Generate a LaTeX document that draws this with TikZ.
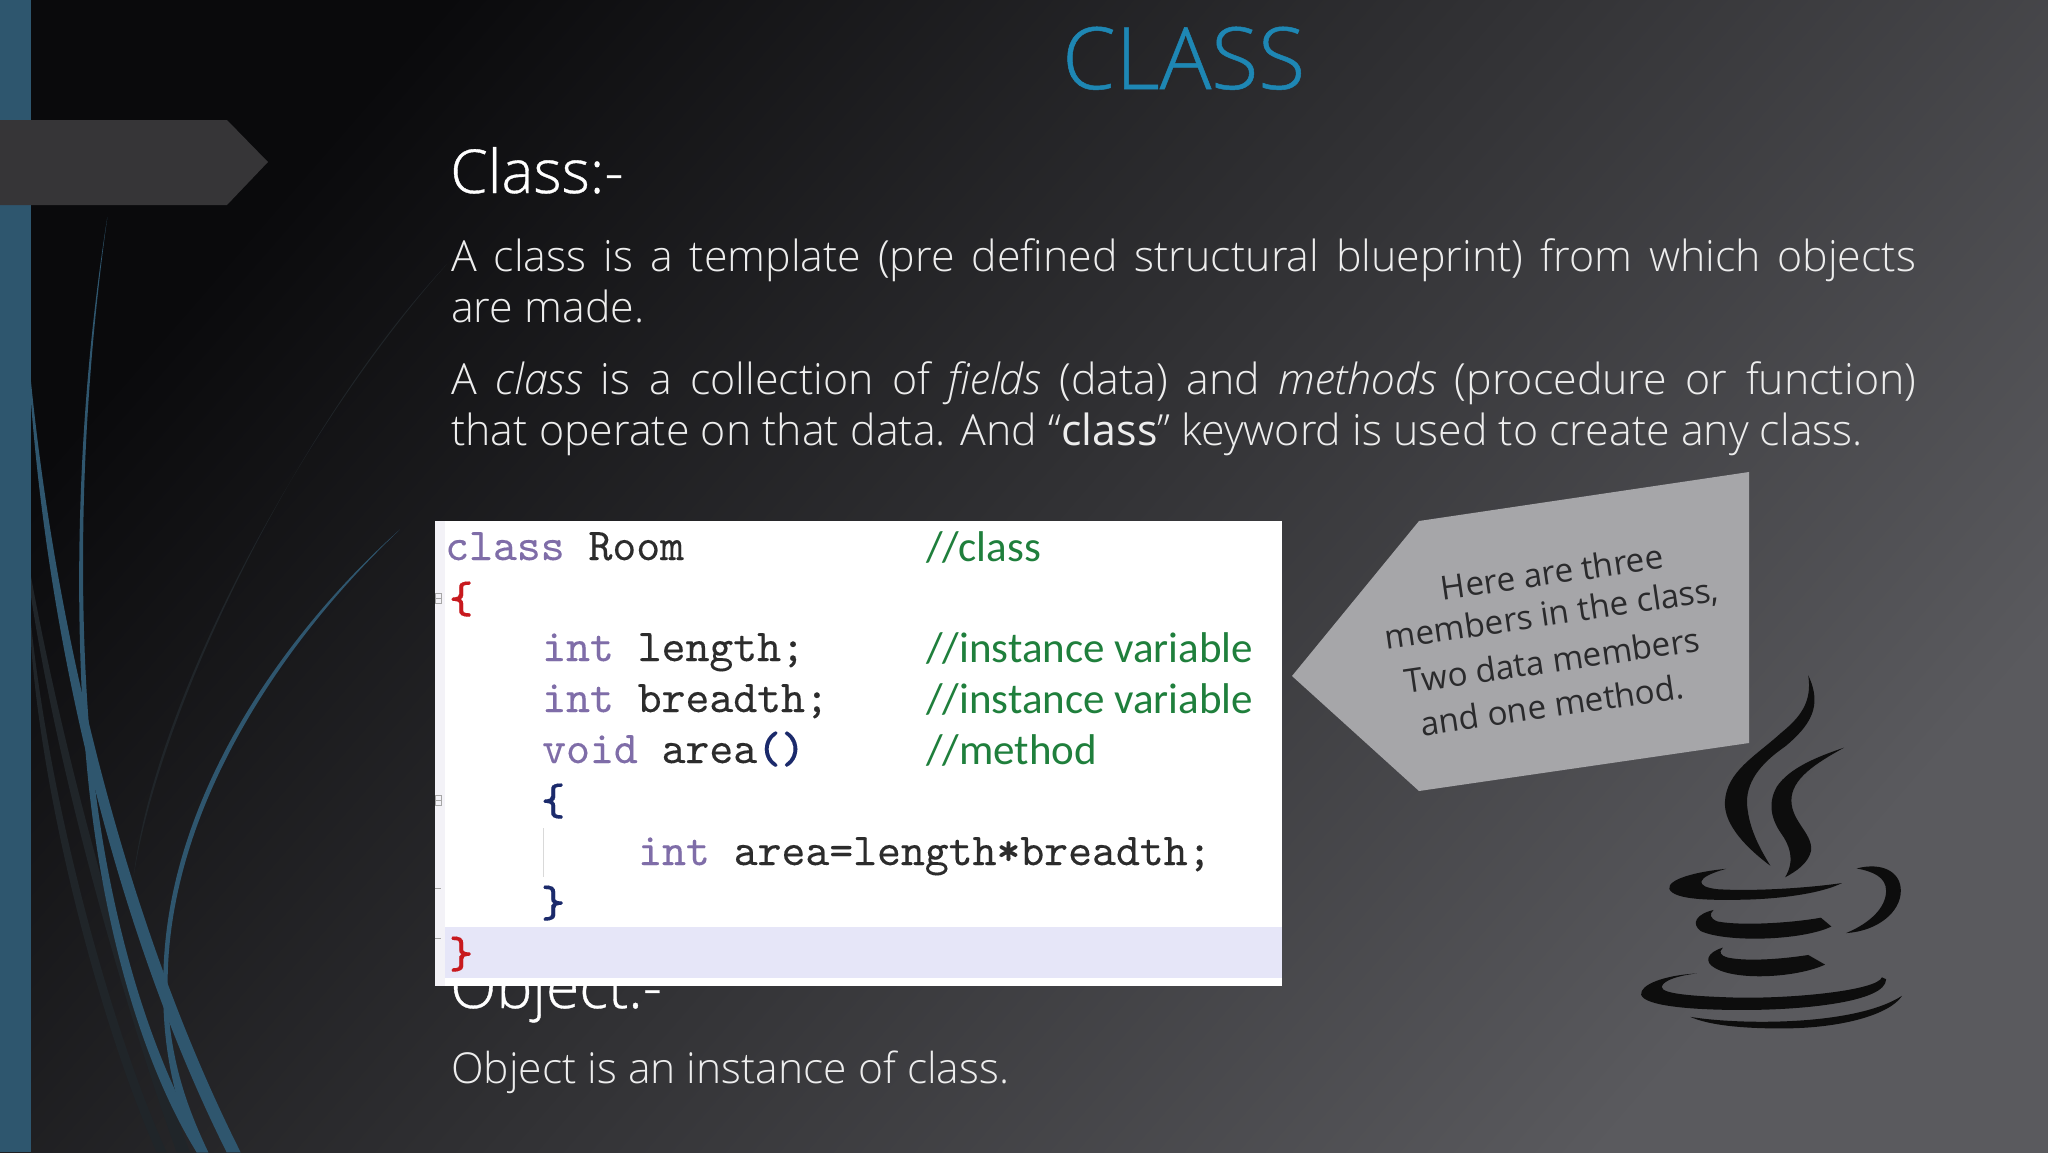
\documentclass[tikz,border=0pt]{standalone}
\usepackage{fontspec}
\setmainfont{Open Sans Light}[ItalicFont={Open Sans Light Italic},BoldFont={Open Sans}]
\newfontfamily\headfont{Open Sans Light}[FakeBold=0.6]
\newfontfamily\callfont{Open Sans}
\newfontfamily\commentfont{Carlito}
\newfontfamily\codefont{lmmono10-regular}[Extension=.otf,BoldFont=lmmonolt10-bold,BoldFeatures={Extension=.otf},FakeBold=0.2]
\definecolor{bgdark}{HTML}{0A0A0C}
\definecolor{bglight}{HTML}{5A5A5E}
\definecolor{barblue}{HTML}{2E566E}
\definecolor{swoosh}{HTML}{2F566E}
\definecolor{dimswoosh}{HTML}{202529}
\definecolor{ribbon}{HTML}{363537}
\definecolor{titleblue}{HTML}{1E87B4}
\definecolor{bodytext}{HTML}{EDEDED}
\definecolor{callgray}{HTML}{A6A6A9}
\definecolor{calltext}{HTML}{2A2A2C}
\definecolor{kw}{HTML}{7F6DA8}
\definecolor{ident}{HTML}{2C2C2C}
\definecolor{cmt}{HTML}{1F7F3C}
\definecolor{redbrace}{HTML}{C8191E}
\definecolor{navybrace}{HTML}{1B2A6B}
\definecolor{strip}{HTML}{E6E6F8}
\definecolor{gutter}{HTML}{F3F2F7}
\tikzset{
  bodyline/.style={anchor=base west,inner sep=0pt,text=bodytext,font=\fontsize{42.9}{51}\selectfont},
  headline/.style={anchor=base west,inner sep=0pt,text=white,font=\headfont\fontsize{60.5}{64}\selectfont},
  codeline/.style={anchor=base west,inner sep=0pt,font=\codefont\fontsize{45.5}{51}\selectfont},
  cmtline/.style={anchor=base west,inner sep=0pt,text=cmt,font=\commentfont\fontsize{43}{51}\selectfont},
  callline/.style={inner sep=0pt,text=calltext,rotate=8.3,font=\callfont\fontsize{33.2}{43}\selectfont},
  logo/.style={fill=black!95!white}
}
\begin{document}
\begin{tikzpicture}[x=1pt,y=-1pt]
\useasboundingbox (0,0) rectangle (2048,1152);
% background
\shade[shading=axis,left color=bgdark,right color=bglight,shading angle=49] (0,0) rectangle (2048,1152);
% swooshes
\begin{scope}[shift={(0,100)},x=0.3333pt,y=-0.6711pt]
\fill[dimswoosh] (1340,245) .. controls (900,480) and (480,900) .. (400,1160) .. controls (460,900) and (900,490) .. (1340,245) -- cycle;
\fill[dimswoosh] (93,710) .. controls (200,1000) and (400,1350) .. (570,1568) -- (530,1568) .. controls (380,1360) and (180,1020) .. (93,740) -- cycle;
\fill[dimswoosh] (93,780) .. controls (150,1050) and (330,1380) .. (500,1568) -- (470,1568) .. controls (310,1390) and (130,1060) .. (93,810) -- cycle;
\fill[swoosh] (93,420) .. controls (170,800) and (380,1230) .. (722,1568) -- (680,1568) .. controls (350,1240) and (150,820) .. (93,450) -- cycle;
\fill[swoosh] (322,175) .. controls (250,430) and (230,700) .. (268,940) .. controls (310,1200) and (450,1430) .. (625,1568) -- (590,1568) .. controls (430,1440) and (290,1220) .. (252,940) .. controls (220,700) and (240,430) .. (322,175) -- cycle;
\fill[swoosh] (1200,640) .. controls (880,790) and (510,1040) .. (503,1310) .. controls (500,1420) and (560,1500) .. (625,1568) -- (590,1568) .. controls (530,1500) and (485,1420) .. (490,1310) .. controls (495,1040) and (860,790) .. (1200,640) -- cycle;
\end{scope}
% left bar and ribbon
\fill[barblue] (0,0) rectangle (31,1152);
\fill[ribbon] (0,120) -- (227,120) -- (268,162) -- (227,205) -- (0,205) -- cycle;
% title and text
\node[anchor=base west,inner sep=0pt,text=titleblue,font=\headfont\fontsize{86}{90}\selectfont] (title) at (1062,89) {CLASS};
\node[headline] (h1) at (450,193) {Class:-};
\node[bodyline] (p1a) at (451,271) {\makebox[1465pt][s]{A class is a template (pre defined structural blueprint) from which objects}};
\node[bodyline] (p1b) at (451,322) {are made.};
\node[bodyline] (p2a) at (451,394) {\makebox[1465pt][s]{A \textit{class} is a collection of \textit{fields} (data) and \textit{methods} (procedure or function)}};
\node[bodyline] (p2b) at (451,445) {that operate on that data. And “\textbf{class}” keyword is used to create any class.};
\node[headline] (h2) at (450,1008) {Object:-};
\node[bodyline,font=\fontsize{42.6}{51}\selectfont] (p3) at (451,1083) {Object is an instance of class.};
% code picture
\fill[white] (435,521) rectangle (1282,986);
\fill[gutter] (435,521) rectangle (445,986);
\fill[strip] (445,927) rectangle (1282,978);
\draw[gray!70,line width=0.8pt] (435,593) rectangle (441,603) (435,598) -- (441,598);
\draw[gray!70,line width=0.8pt] (435,795) rectangle (441,805) (435,800) -- (441,800);
\draw[gray!70,line width=0.8pt] (435,888) -- (441,888) (435,938) -- (441,938);
\draw[gray!30,line width=1pt] (543,828) -- (543,877);
\node[codeline,text=kw] (c1) at (445,560) {class\textcolor{ident}{\ Room}};
\node[codeline,text=redbrace] (c2) at (449,613) {\textbf{\{}};
\node[codeline,text=kw] (c3) at (542,661) {int\textcolor{ident}{\ length;}};
\node[codeline,text=kw] (c4) at (542,712) {int\textcolor{ident}{\ breadth;}};
\node[codeline,text=kw] (c5) at (542,763) {void\textcolor{ident}{\ area}\textcolor{navybrace}{\textbf{()}}};
\node[codeline,text=navybrace] (c6) at (541,815) {\textbf{\{}};
\node[codeline,text=kw] (c7) at (638,865) {int\textcolor{ident}{\ area=length\textbf{*}breadth;}};
\node[codeline,text=navybrace] (c8) at (541,917) {\textbf{\}}};
\node[codeline,text=redbrace] (c9) at (449,968) {\textbf{\}}};
\node[cmtline] (m1) at (926,561) {//class};
\node[cmtline] (m2) at (926,662) {//instance variable};
\node[cmtline] (m3) at (926,713) {//instance variable};
\node[cmtline] (m4) at (926,764) {//method};
% callout
\fill[callgray] (1292,676) -- (1419,521) -- (1749,472) -- (1749,743) -- (1419,791) -- cycle;
\node[callline] (t1) at (1552,572) {Here are three};
\node[callline] (t2) at (1552,615) {members in the class,};
\node[callline] (t3) at (1552,660) {Two data members};
\node[callline] (t4) at (1552,705) {and one method.};
% java logo
\begin{scope}[shift={(1280,460)},x=0.4209pt,y=-0.3846pt]
\fill[logo] (1255,560) .. controls (1290,640) and (1260,690) .. (1200,745) .. controls (1140,790) and (1105,840) .. (1110,900) .. controls (1115,960) and (1140,1010) .. (1165,1055) .. controls (1110,1010) and (1055,950) .. (1057,890) .. controls (1060,810) and (1130,770) .. (1190,710) .. controls (1235,670) and (1265,630) .. (1255,560) -- cycle;
\fill[logo] (1340,748) .. controls (1270,790) and (1215,830) .. (1215,885) .. controls (1215,940) and (1265,970) .. (1262,1015) .. controls (1255,1050) and (1225,1070) .. (1200,1085) .. controls (1225,1040) and (1210,1000) .. (1190,970) .. controls (1165,930) and (1160,890) .. (1180,850) .. controls (1210,800) and (1280,770) .. (1340,748) -- cycle;
\fill[logo] (1060,1063) .. controls (990,1070) and (920,1090) .. (925,1115) .. controls (935,1145) and (1030,1145) .. (1110,1143) .. controls (1200,1140) and (1290,1125) .. (1335,1100) .. controls (1260,1112) and (1130,1122) .. (1040,1116) .. controls (985,1110) and (985,1085) .. (1060,1063) -- cycle;
\fill[logo] (1370,1062) .. controls (1430,1045) and (1475,1070) .. (1475,1120) .. controls (1475,1175) and (1420,1225) .. (1345,1230) .. controls (1400,1205) and (1440,1165) .. (1440,1120) .. controls (1440,1085) and (1410,1070) .. (1370,1062) -- cycle;
\fill[logo] (1030,1170) .. controls (990,1180) and (975,1205) .. (1000,1225) .. controls (1060,1255) and (1240,1250) .. (1310,1213) -- (1285,1190) .. controls (1220,1203) and (1100,1212) .. (1040,1200) .. controls (1020,1192) and (1020,1180) .. (1030,1170) -- cycle;
\fill[logo] (1052,1268) .. controls (1015,1280) and (1005,1305) .. (1035,1322) .. controls (1090,1355) and (1230,1345) .. (1295,1312) -- (1255,1287) .. controls (1190,1298) and (1110,1304) .. (1065,1294) .. controls (1045,1288) and (1042,1280) .. (1052,1268) -- cycle;
\fill[logo] (990,1335) .. controls (910,1340) and (855,1365) .. (858,1390) .. controls (865,1420) and (980,1430) .. (1100,1430) .. controls (1240,1430) and (1440,1410) .. (1440,1350) -- (1430,1345) .. controls (1420,1378) and (1230,1400) .. (1090,1398) .. controls (1000,1395) and (905,1390) .. (907,1370) .. controls (910,1352) and (950,1340) .. (990,1335) -- cycle;
\fill[logo] (975,1448) .. controls (1100,1470) and (1370,1470) .. (1478,1393) .. controls (1450,1440) and (1340,1478) .. (1190,1478) .. controls (1100,1478) and (1020,1470) .. (975,1448) -- cycle;
\end{scope}
\end{tikzpicture}
\end{document}
